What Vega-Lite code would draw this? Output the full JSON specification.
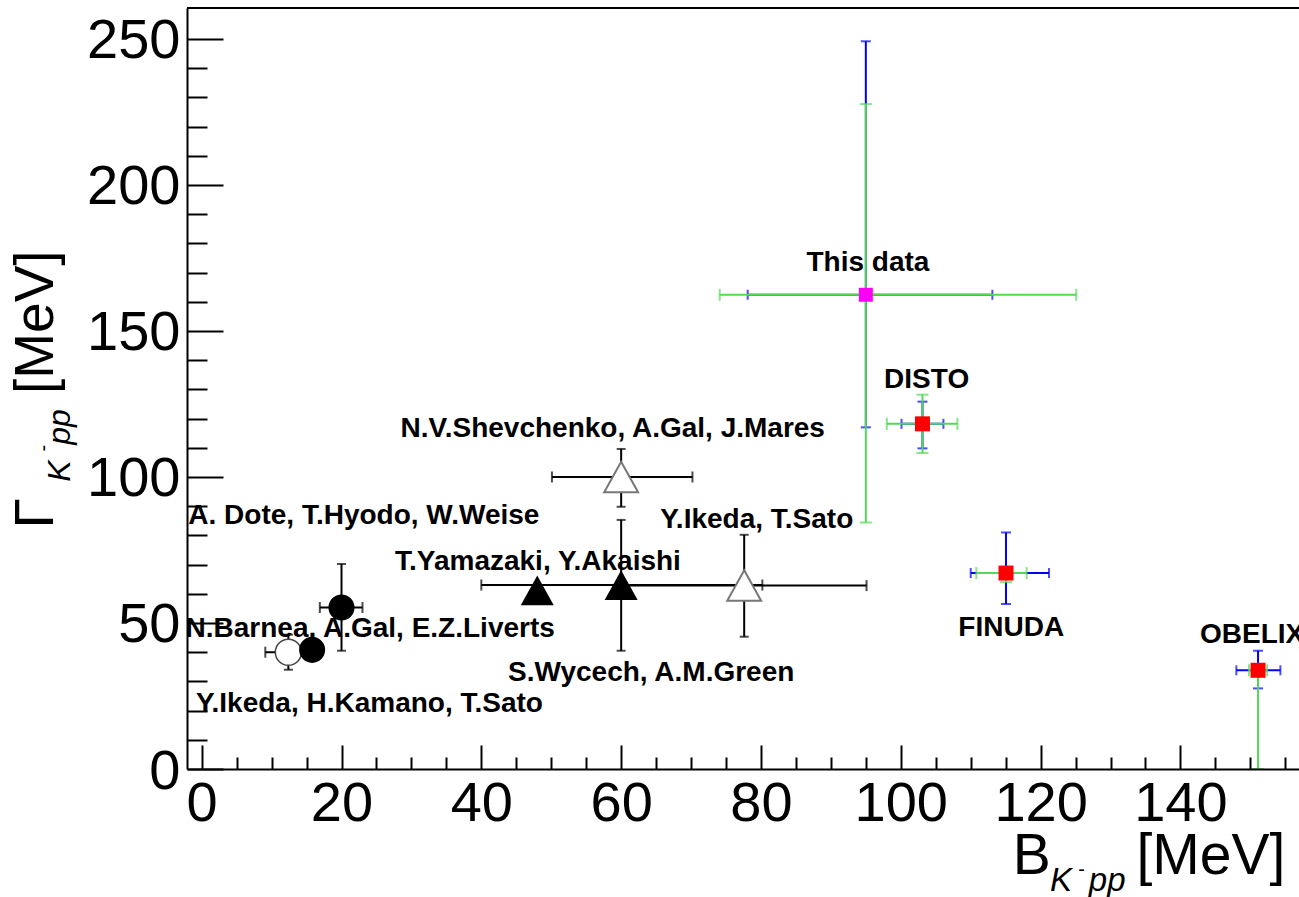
{
  "$schema": "https://vega.github.io/schema/vega-lite/v6.json",
  "width": 1112,
  "height": 761,
  "autosize": {"type": "none"},
  "padding": {"left": 187, "top": 8, "right": 0, "bottom": 128},
  "background": "white",
  "config": {"view": {"stroke": null}, "text": {"font": "Liberation Sans"}},
  "resolve": {"axis": {"x": "independent", "y": "independent"}},
  "datasets": {
    "theory": [
      {"name": "Y.Ikeda, H.Kamano, T.Sato", "marker": "open circle", "x": 12.4, "y": 40, "xlo": 9.1, "xhi": 15.9, "ylo": 34, "yhi": 46},
      {"name": "A. Dote, T.Hyodo, W.Weise", "marker": "full circle", "x": 20, "y": 55.3, "xlo": 16.9, "xhi": 23, "ylo": 40.5, "yhi": 70.2},
      {"name": "N.Barnea, A.Gal, E.Z.Liverts", "marker": "full circle", "x": 15.8, "y": 40.8, "xlo": null, "xhi": null, "ylo": null, "yhi": null},
      {"name": "T.Yamazaki, Y.Akaishi", "marker": "full triangle", "x": 48, "y": 61.2, "xlo": null, "xhi": null, "ylo": null, "yhi": null},
      {"name": "S.Wycech, A.M.Green", "marker": "full triangle", "x": 60, "y": 63, "xlo": 40, "xhi": 80.2, "ylo": 40.5, "yhi": 85.3},
      {"name": "N.V.Shevchenko, A.Gal, J.Mares", "marker": "open triangle", "x": 60, "y": 100, "xlo": 50.1, "xhi": 70.2, "ylo": 89.8, "yhi": 109.6},
      {"name": "Y.Ikeda, T.Sato", "marker": "open triangle", "x": 77.6, "y": 62.8, "xlo": 60, "xhi": 95.1, "ylo": 45.3, "yhi": 80.2}
    ],
    "exp": [
      {"name": "This data", "x": 95.0, "y": 162.4, "bxlo": 78.1, "bxhi": 113.1, "bylo": 117, "byhi": 249.2, "gxlo": 74.1, "gxhi": 125.1, "gylo": 84.4, "gyhi": 227.7},
      {"name": "DISTO", "x": 103.1, "y": 118.2, "bxlo": 100.1, "bxhi": 106.1, "bylo": 109.8, "byhi": 125.8, "gxlo": 98.0, "gxhi": 108.1, "gylo": 108.2, "gyhi": 128.2},
      {"name": "FINUDA", "x": 115.05, "y": 67.1, "bxlo": 110.0, "bxhi": 121.2, "bylo": 56.5, "byhi": 81.0, "gxlo": 110.8, "gxhi": 118.0, "gylo": 64, "gyhi": 69},
      {"name": "OBELIX", "x": 151.1, "y": 33.8, "bxlo": 148.0, "bxhi": 154.3, "bylo": 27.6, "byhi": 40.5, "gxlo": 149.8, "gxhi": 152.4, "gylo": 0, "gyhi": 36}
    ],
    "labels": [
      {"text": "This data", "x": 95.3, "y": 170.7},
      {"text": "DISTO", "x": 103.7, "y": 130.6},
      {"text": "FINUDA", "x": 115.8, "y": 45.65},
      {"text": "OBELIX", "x": 150.25, "y": 43.25},
      {"text": "N.V.Shevchenko, A.Gal, J.Mares", "x": 58.8, "y": 113.6},
      {"text": "A. Dote, T.Hyodo, W.Weise", "x": 23.2, "y": 84.0},
      {"text": "Y.Ikeda, T.Sato", "x": 79.4, "y": 82.7},
      {"text": "T.Yamazaki, Y.Akaishi", "x": 48.1, "y": 68.2},
      {"text": "N.Barnea, A.Gal, E.Z.Liverts", "x": 24.1, "y": 45.1},
      {"text": "S.Wycech, A.M.Green", "x": 64.3, "y": 30.2},
      {"text": "Y.Ikeda, H.Kamano, T.Sato", "x": 24.0, "y": 19.4}
    ]
  },
  "layer": [
    {
      "data": {"values": [{}]},
      "mark": {"type": "rule", "color": "black", "strokeWidth": 2},
      "encoding": {"y": {"datum": 260.6, "type": "quantitative", "scale": {"domain": [0, 260.6], "nice": false, "zero": false}, "axis": null}}
    },
    {
      "data": {"name": "theory"},
      "transform": [{"filter": "datum.xlo != null"}],
      "mark": {"type": "errorbar", "color": "black", "thickness": 2, "ticks": {"size": 11}},
      "encoding": {
        "x": {"field": "xlo", "type": "quantitative", "scale": {"domain": [-2.1, 156.96], "nice": false, "zero": false}, "axis": null},
        "x2": {"field": "xhi"},
        "y": {"field": "y", "type": "quantitative", "scale": {"domain": [0, 260.6], "nice": false, "zero": false}, "axis": null}
      }
    },
    {
      "data": {"name": "theory"},
      "transform": [{"filter": "datum.ylo != null"}],
      "mark": {"type": "errorbar", "color": "black", "thickness": 2, "ticks": {"size": 9}},
      "encoding": {
        "x": {"field": "x", "type": "quantitative", "scale": {"domain": [-2.1, 156.96], "nice": false, "zero": false}, "axis": null},
        "y": {"field": "ylo", "type": "quantitative", "scale": {"domain": [0, 260.6], "nice": false, "zero": false}, "axis": null},
        "y2": {"field": "yhi"}
      }
    },
    {
      "data": {"name": "theory"},
      "transform": [{"filter": "datum.marker === 'open circle'"}],
      "mark": {"type": "point", "shape": "circle", "size": 680, "filled": true, "fill": "white", "stroke": "#444444", "strokeWidth": 1.5, "opacity": 1},
      "encoding": {
        "x": {"field": "x", "type": "quantitative", "scale": {"domain": [-2.1, 156.96], "nice": false, "zero": false}, "axis": null},
        "y": {"field": "y", "type": "quantitative", "scale": {"domain": [0, 260.6], "nice": false, "zero": false}, "axis": null}
      }
    },
    {
      "data": {"name": "theory"},
      "transform": [{"filter": "datum.marker === 'full circle'"}],
      "mark": {"type": "point", "shape": "circle", "size": 680, "filled": true, "color": "black", "opacity": 1},
      "encoding": {
        "x": {"field": "x", "type": "quantitative", "scale": {"domain": [-2.1, 156.96], "nice": false, "zero": false}, "axis": null},
        "y": {"field": "y", "type": "quantitative", "scale": {"domain": [0, 260.6], "nice": false, "zero": false}, "axis": null}
      }
    },
    {
      "data": {"name": "theory"},
      "transform": [{"filter": "datum.marker === 'full triangle'"}],
      "mark": {"type": "point", "shape": "M0,-0.9L1,0.9L-1,0.9Z", "size": 1090, "filled": true, "color": "black", "opacity": 1},
      "encoding": {
        "x": {"field": "x", "type": "quantitative", "scale": {"domain": [-2.1, 156.96], "nice": false, "zero": false}, "axis": null},
        "y": {"field": "y", "type": "quantitative", "scale": {"domain": [0, 260.6], "nice": false, "zero": false}, "axis": null}
      }
    },
    {
      "data": {"name": "theory"},
      "transform": [{"filter": "datum.marker === 'open triangle'"}],
      "mark": {"type": "point", "shape": "M0,-0.9L1,0.9L-1,0.9Z", "size": 1150, "filled": true, "fill": "white", "stroke": "#777777", "strokeWidth": 2, "opacity": 1},
      "encoding": {
        "x": {"field": "x", "type": "quantitative", "scale": {"domain": [-2.1, 156.96], "nice": false, "zero": false}, "axis": null},
        "y": {"field": "y", "type": "quantitative", "scale": {"domain": [0, 260.6], "nice": false, "zero": false}, "axis": null}
      }
    },
    {
      "data": {"name": "exp"},
      "mark": {"type": "errorbar", "color": "#0000ff", "thickness": 2, "ticks": {"size": 10}},
      "encoding": {
        "x": {"field": "bxlo", "type": "quantitative", "scale": {"domain": [-2.1, 156.96], "nice": false, "zero": false}, "axis": null},
        "x2": {"field": "bxhi"},
        "y": {"field": "y", "type": "quantitative", "scale": {"domain": [0, 260.6], "nice": false, "zero": false}, "axis": null}
      }
    },
    {
      "data": {"name": "exp"},
      "mark": {"type": "errorbar", "color": "#0000ff", "thickness": 2, "ticks": {"size": 10}},
      "encoding": {
        "x": {"field": "x", "type": "quantitative", "scale": {"domain": [-2.1, 156.96], "nice": false, "zero": false}, "axis": null},
        "y": {"field": "bylo", "type": "quantitative", "scale": {"domain": [0, 260.6], "nice": false, "zero": false}, "axis": null},
        "y2": {"field": "byhi"}
      }
    },
    {
      "data": {"name": "exp"},
      "mark": {"type": "errorbar", "color": "#55d855", "thickness": 2, "ticks": {"size": 12}},
      "encoding": {
        "x": {"field": "gxlo", "type": "quantitative", "scale": {"domain": [-2.1, 156.96], "nice": false, "zero": false}, "axis": null},
        "x2": {"field": "gxhi"},
        "y": {"field": "y", "type": "quantitative", "scale": {"domain": [0, 260.6], "nice": false, "zero": false}, "axis": null}
      }
    },
    {
      "data": {"name": "exp"},
      "mark": {"type": "errorbar", "color": "#55d855", "thickness": 2, "ticks": {"size": 12}},
      "encoding": {
        "x": {"field": "x", "type": "quantitative", "scale": {"domain": [-2.1, 156.96], "nice": false, "zero": false}, "axis": null},
        "y": {"field": "gylo", "type": "quantitative", "scale": {"domain": [0, 260.6], "nice": false, "zero": false}, "axis": null},
        "y2": {"field": "gyhi"}
      }
    },
    {
      "data": {"name": "exp"},
      "transform": [{"filter": "datum.name !== 'This data'"}],
      "mark": {"type": "point", "shape": "square", "size": 225, "filled": true, "color": "#ff0000", "opacity": 1},
      "encoding": {
        "x": {"field": "x", "type": "quantitative", "scale": {"domain": [-2.1, 156.96], "nice": false, "zero": false}, "axis": null},
        "y": {"field": "y", "type": "quantitative", "scale": {"domain": [0, 260.6], "nice": false, "zero": false}, "axis": null}
      }
    },
    {
      "data": {"name": "exp"},
      "transform": [{"filter": "datum.name === 'This data'"}],
      "mark": {"type": "point", "shape": "square", "size": 196, "filled": true, "color": "#ff00ff", "opacity": 1},
      "encoding": {
        "x": {"field": "x", "type": "quantitative", "scale": {"domain": [-2.1, 156.96], "nice": false, "zero": false}, "axis": null},
        "y": {"field": "y", "type": "quantitative", "scale": {"domain": [0, 260.6], "nice": false, "zero": false}, "axis": null}
      }
    },
    {
      "data": {"name": "labels"},
      "mark": {"type": "text", "font": "Liberation Sans", "fontWeight": "bold", "fontSize": 28, "align": "center", "baseline": "alphabetic", "color": "black"},
      "encoding": {
        "text": {"field": "text"},
        "x": {
          "field": "x", "type": "quantitative",
          "scale": {"domain": [-2.1, 156.96], "nice": false, "zero": false},
          "axis": {
            "values": [0, 5, 10, 15, 20, 25, 30, 35, 40, 45, 50, 55, 60, 65, 70, 75, 80, 85, 90, 95, 100, 105, 110, 115, 120, 125, 130, 135, 140, 145, 150, 155],
            "format": "d",
            "labelExpr": "datum.value % 20 === 0 ? datum.label : ''",
            "tickSize": -24,
            "tickDash": {"condition": {"test": "datum.value % 20 === 0", "value": [100, 0]}, "value": [12, 100]},
            "tickColor": "black", "tickWidth": 2,
            "domainColor": "black", "domainWidth": 2,
            "labelFont": "Liberation Sans", "labelFontSize": 56, "labelColor": "black",
            "labelPadding": 31, "labelFlush": false, "labelOverlap": false, "labelBound": false,
            "grid": false, "title": null, "zindex": 1
          }
        },
        "y": {
          "field": "y", "type": "quantitative",
          "scale": {"domain": [0, 260.6], "nice": false, "zero": false},
          "axis": {
            "values": [0, 10, 20, 30, 40, 50, 60, 70, 80, 90, 100, 110, 120, 130, 140, 150, 160, 170, 180, 190, 200, 210, 220, 230, 240, 250],
            "format": "d",
            "labelExpr": "datum.value % 50 === 0 ? datum.label : ''",
            "tickSize": -36,
            "tickDash": {"condition": {"test": "datum.value % 50 === 0", "value": [100, 0]}, "value": [20, 100]},
            "tickColor": "black", "tickWidth": 2,
            "domainColor": "black", "domainWidth": 2,
            "labelFont": "Liberation Sans", "labelFontSize": 56, "labelColor": "black",
            "labelPadding": 43, "labelOffset": 2, "labelFlush": false, "labelOverlap": false, "labelBound": false,
            "grid": false, "title": null, "zindex": 1
          }
        }
      }
    },
    {
      "data": {"values": [{}]},
      "mark": {"type": "text", "text": "B", "font": "Liberation Sans", "fontSize": 57, "align": "left", "baseline": "alphabetic", "color": "black"},
      "encoding": {
        "x": {"datum": 116.0, "type": "quantitative", "scale": {"domain": [-2.1, 156.96], "nice": false, "zero": false}, "axis": null},
        "y": {"datum": -35.96, "type": "quantitative", "scale": {"domain": [0, 260.6], "nice": false, "zero": false}, "axis": null}
      }
    },
    {
      "data": {"values": [{}]},
      "mark": {"type": "text", "text": "K", "font": "Liberation Sans", "fontStyle": "italic", "fontSize": 33, "align": "left", "baseline": "alphabetic", "color": "black"},
      "encoding": {
        "x": {"datum": 121.34, "type": "quantitative", "scale": {"domain": [-2.1, 156.96], "nice": false, "zero": false}, "axis": null},
        "y": {"datum": -41.8, "type": "quantitative", "scale": {"domain": [0, 260.6], "nice": false, "zero": false}, "axis": null}
      }
    },
    {
      "data": {"values": [{}]},
      "mark": {"type": "text", "text": "-", "font": "Liberation Sans", "fontSize": 20, "align": "left", "baseline": "alphabetic", "color": "black"},
      "encoding": {
        "x": {"datum": 125.4, "type": "quantitative", "scale": {"domain": [-2.1, 156.96], "nice": false, "zero": false}, "axis": null},
        "y": {"datum": -36.7, "type": "quantitative", "scale": {"domain": [0, 260.6], "nice": false, "zero": false}, "axis": null}
      }
    },
    {
      "data": {"values": [{}]},
      "mark": {"type": "text", "text": "pp", "font": "Liberation Sans", "fontStyle": "italic", "fontSize": 33, "align": "left", "baseline": "alphabetic", "color": "black"},
      "encoding": {
        "x": {"datum": 126.9, "type": "quantitative", "scale": {"domain": [-2.1, 156.96], "nice": false, "zero": false}, "axis": null},
        "y": {"datum": -41.8, "type": "quantitative", "scale": {"domain": [0, 260.6], "nice": false, "zero": false}, "axis": null}
      }
    },
    {
      "data": {"values": [{}]},
      "mark": {"type": "text", "text": "[MeV]", "font": "Liberation Sans", "fontSize": 57, "align": "left", "baseline": "alphabetic", "color": "black"},
      "encoding": {
        "x": {"datum": 133.7, "type": "quantitative", "scale": {"domain": [-2.1, 156.96], "nice": false, "zero": false}, "axis": null},
        "y": {"datum": -35.96, "type": "quantitative", "scale": {"domain": [0, 260.6], "nice": false, "zero": false}, "axis": null}
      }
    },
    {
      "data": {"values": [{}]},
      "mark": {"type": "text", "text": "Γ", "font": "Liberation Sans", "fontSize": 55, "angle": 270, "align": "left", "baseline": "alphabetic", "color": "black"},
      "encoding": {
        "x": {"datum": -21.23, "type": "quantitative", "scale": {"domain": [-2.1, 156.96], "nice": false, "zero": false}, "axis": null},
        "y": {"datum": 82.4, "type": "quantitative", "scale": {"domain": [0, 260.6], "nice": false, "zero": false}, "axis": null}
      }
    },
    {
      "data": {"values": [{}]},
      "mark": {"type": "text", "text": "K", "font": "Liberation Sans", "fontStyle": "italic", "fontSize": 32, "angle": 270, "align": "left", "baseline": "alphabetic", "color": "black"},
      "encoding": {
        "x": {"datum": -18.84, "type": "quantitative", "scale": {"domain": [-2.1, 156.96], "nice": false, "zero": false}, "axis": null},
        "y": {"datum": 98.4, "type": "quantitative", "scale": {"domain": [0, 260.6], "nice": false, "zero": false}, "axis": null}
      }
    },
    {
      "data": {"values": [{}]},
      "mark": {"type": "text", "text": "-", "font": "Liberation Sans", "fontSize": 20, "angle": 270, "align": "left", "baseline": "alphabetic", "color": "black"},
      "encoding": {
        "x": {"datum": -21.64, "type": "quantitative", "scale": {"domain": [-2.1, 156.96], "nice": false, "zero": false}, "axis": null},
        "y": {"datum": 108.7, "type": "quantitative", "scale": {"domain": [0, 260.6], "nice": false, "zero": false}, "axis": null}
      }
    },
    {
      "data": {"values": [{}]},
      "mark": {"type": "text", "text": "pp", "font": "Liberation Sans", "fontStyle": "italic", "fontSize": 32, "angle": 270, "align": "left", "baseline": "alphabetic", "color": "black"},
      "encoding": {
        "x": {"datum": -18.84, "type": "quantitative", "scale": {"domain": [-2.1, 156.96], "nice": false, "zero": false}, "axis": null},
        "y": {"datum": 111.0, "type": "quantitative", "scale": {"domain": [0, 260.6], "nice": false, "zero": false}, "axis": null}
      }
    },
    {
      "data": {"values": [{}]},
      "mark": {"type": "text", "text": "[MeV]", "font": "Liberation Sans", "fontSize": 55, "angle": 270, "align": "left", "baseline": "alphabetic", "color": "black"},
      "encoding": {
        "x": {"datum": -21.23, "type": "quantitative", "scale": {"domain": [-2.1, 156.96], "nice": false, "zero": false}, "axis": null},
        "y": {"datum": 128.4, "type": "quantitative", "scale": {"domain": [0, 260.6], "nice": false, "zero": false}, "axis": null}
      }
    }
  ]
}
